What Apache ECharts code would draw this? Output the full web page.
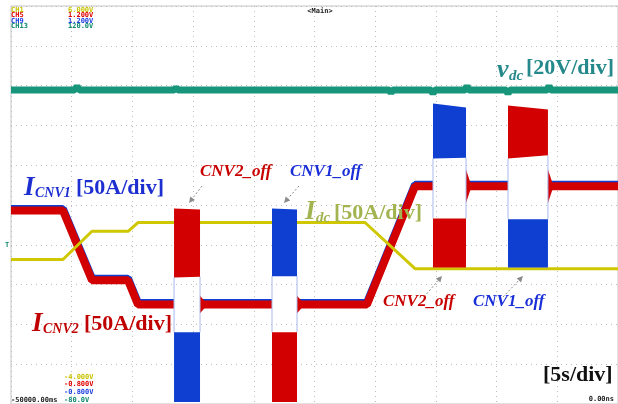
<!DOCTYPE html>
<html><head><meta charset="utf-8">
<script src="https://cdn.jsdelivr.net/npm/echarts@6/dist/echarts.min.js"></script>
<style>html,body{margin:0;padding:0;background:#fff}#c{width:618px;height:404px}</style>
</head><body><div id="c"></div>
<script>
// ---- axes: time in seconds (5 s/div), vertical in screen divisions ----
const timeMin = -50, timeMax = 0, timeStep = 5;
const divMin = -5, divMax = 5, divStep = 1;

// ---- v_dc (CH13) ----
const vdcT = [-50, -44.75, -44.56, -44.37, -36.55, -36.4, -36.25, -28.4, -28.25, -28.1, -18.85, -18.7, -18.55, -15.39, -15.24, -15.09, -12.59, -12.44, -12.29, -9.21, -9.06, -8.91, -5.83, -5.68, -5.53, 0];
const vdcV = [2.89, 2.89, 2.98, 2.89, 2.89, 2.95, 2.89, 2.89, 2.94, 2.89, 2.89, 2.82, 2.89, 2.89, 2.8, 2.89, 2.89, 2.99, 2.89, 2.89, 2.8, 2.89, 2.89, 2.99, 2.89, 2.89];

// ---- I_dc (CH1) ----
const idcT = [-50, -45.72, -43.33, -40.36, -39.54, -20.84, -16.72, 0];
const idcV = [-1.37, -1.37, -0.66, -0.66, -0.44, -0.44, -1.6, -1.6];

// ---- I_CNV1 (CH9) and I_CNV2 (CH5), null = burst interval ----
const curT   = [-50, -45.72, -43.33, -40.36, -39.54, -36.57, -35.5, -34.43, -28.5, -27.5, -26.44, -20.68, -16.72, -15.24, -13.9, -12.52, -9.06, -7.4, -5.77, 0];
const icnv1V = [-0.1, -0.1, -1.85, -1.85, -2.46, -2.46, null, -2.46, -2.46, null, -2.46, -2.46, 0.51, 0.51, null, 0.51, 0.51, null, 0.51, 0.51];
const icnv2V = [-0.14, -0.14, -1.89, -1.89, -2.5, -2.5, null, -2.5, -2.5, null, -2.5, -2.5, 0.47, 0.47, null, 0.47, 0.47, null, 0.47, 0.47];

// ---- converter-off bursts (envelopes of the fast oscillation) ----
const burstStart = [-36.57, -28.5, -15.24, -9.06];
const burstEnd   = [-34.43, -26.44, -12.52, -5.77];
const cnv2TopL = [-0.085, -3.2, -0.34, 2.5];
const cnv2TopR = [-0.11, -3.2, -0.34, 2.4];
const cnv2BotL = [-1.82, -4.95, -1.57, 1.17];
const cnv2BotR = [-1.8, -4.95, -1.57, 1.25];
const cnv1TopL = [-3.2, -0.085, 2.55, -0.36];
const cnv1TopR = [-3.2, -0.11, 2.45, -0.36];
const cnv1BotL = [-4.95, -1.79, 1.17, -1.57];
const cnv1BotR = [-4.95, -1.79, 1.19, -1.57];
const ringLevel = [-2.5, -2.5, 0.47, 0.47];
const ringAmp   = [0.22, 0.22, 0.42, 0.42];

const RED = '#d20000', BLUE = '#0e3fd0', YEL = '#cfc800', TEAL = '#17967c';

const chart = echarts.init(document.getElementById('c'), null, {renderer: 'canvas'});
const zip = (a, b) => a.map((t, i) => [t, b[i]]);
const bandData = (tl, tr, bl, br) => burstStart.map((s, i) => [s, burstEnd[i], tl[i], tr[i], bl[i], br[i]]);

function bandRender(color) {
  return function (params, api) {
    const s = api.value(0), e = api.value(1);
    return {
      type: 'polygon',
      shape: {points: [api.coord([s, api.value(2)]), api.coord([e, api.value(3)]), api.coord([e, api.value(5)]), api.coord([s, api.value(4)])]},
      style: {fill: color}
    };
  };
}
function edgeRender(params, api) {
  const s = api.value(0), e = api.value(1);
  const a1 = api.coord([s, api.value(2)]), a2 = api.coord([s, api.value(3)]);
  const b1 = api.coord([e, api.value(4)]), b2 = api.coord([e, api.value(5)]);
  return {type: 'group', children: [
    {type: 'line', shape: {x1: a1[0], y1: a1[1], x2: a2[0], y2: a2[1]}, style: {stroke: '#a8b8ee', lineWidth: 1}},
    {type: 'line', shape: {x1: b1[0], y1: b1[1], x2: b2[0], y2: b2[1]}, style: {stroke: '#a8b8ee', lineWidth: 1}}
  ]};
}
function ringRender(params, api) {
  const t = api.value(0), lv = api.value(1), a = api.value(2);
  return {type: 'polygon', shape: {points: [api.coord([t, lv + a]), api.coord([t + 0.35, lv + 0.1]), api.coord([t + 0.35, lv - 0.1]), api.coord([t, lv - a])]}, style: {fill: RED}};
}
const edgeData = burstStart.map((s, i) => {
  const upBotL = Math.max(cnv1BotL[i], cnv2BotL[i]), loTopL = Math.min(cnv1TopL[i], cnv2TopL[i]);
  const upBotR = Math.max(cnv1BotR[i], cnv2BotR[i]), loTopR = Math.min(cnv1TopR[i], cnv2TopR[i]);
  return [s, burstEnd[i], upBotL, loTopL, upBotR, loTopR];
});

const SERIF = '"Liberation Serif","Times New Roman",serif';
const MONO = '"DejaVu Sans Mono",monospace';
function txt(x, y, text, font, fill, align) {
  return {type: 'text', x: x, y: y, z: 100, style: {text: text, font: font, fill: fill, textAlign: align || 'left', textVerticalAlign: 'middle'}};
}
function arrow(x1, y1, x2, y2) {
  const ang = Math.atan2(y2 - y1, x2 - x1), L = 6, W = 3;
  const bx = x2 - L * Math.cos(ang), by = y2 - L * Math.sin(ang);
  return {type: 'group', z: 100, children: [
    {type: 'line', shape: {x1: x1, y1: y1, x2: bx, y2: by}, style: {stroke: '#8c8c8c', lineWidth: 1, lineDash: [2, 2]}},
    {type: 'polygon', shape: {points: [[x2, y2], [bx - W * Math.sin(ang), by + W * Math.cos(ang)], [bx + W * Math.sin(ang), by - W * Math.cos(ang)]]}, style: {fill: '#8c8c8c'}}
  ]};
}

const graphics = [
  txt(11, 10, 'CH1', 'bold 7px ' + MONO, '#c8c400'), txt(68, 10, '6.000V', 'bold 7px ' + MONO, '#c8c400'),
  txt(11, 15.5, 'CH5', 'bold 7px ' + MONO, '#e00000'), txt(68, 15.5, '1.200V', 'bold 7px ' + MONO, '#e00000'),
  txt(11, 21, 'CH9', 'bold 7px ' + MONO, '#1f40e0'), txt(68, 21, '1.200V', 'bold 7px ' + MONO, '#1f40e0'),
  txt(11, 26.5, 'CH13', 'bold 7px ' + MONO, '#108a70'), txt(68, 26.5, '120.0V', 'bold 7px ' + MONO, '#108a70'),
  txt(320, 11, '<Main>', 'bold 7px ' + MONO, '#222', 'center'),
  txt(64, 377, '-4.000V', 'bold 7px ' + MONO, '#c8c400'),
  txt(64, 384.5, '-0.800V', 'bold 7px ' + MONO, '#e00000'),
  txt(64, 392.5, '-0.800V', 'bold 7px ' + MONO, '#1f40e0'),
  txt(64, 400.5, '-80.0V', 'bold 7px ' + MONO, '#108a70'),
  txt(11, 400.5, '-50000.00ms', 'bold 7px ' + MONO, '#222'),
  txt(614, 399, '0.00ns', 'bold 7px ' + MONO, '#222', 'right'),
  txt(5, 245, 'T', 'bold 7px ' + MONO, '#108a70'),
  txt(497, 70, 'v', 'italic bold 26px ' + SERIF, '#25898b'),
  txt(509, 76, 'dc', 'italic bold 15px ' + SERIF, '#25898b'),
  txt(526, 68.5, '[20V/div]', 'bold 22px ' + SERIF, '#25898b'),
  txt(24, 188, 'I', 'italic bold 27px ' + SERIF, '#1d2fd0'),
  txt(35, 193, 'CNV1', 'italic bold 14px ' + SERIF, '#1d2fd0'),
  txt(76, 188, '[50A/div]', 'bold 22px ' + SERIF, '#1d2fd0'),
  txt(32, 324, 'I', 'italic bold 27px ' + SERIF, '#c00000'),
  txt(43, 329, 'CNV2', 'italic bold 14px ' + SERIF, '#c00000'),
  txt(84, 324, '[50A/div]', 'bold 22px ' + SERIF, '#c00000'),
  txt(305, 212, 'I', 'italic bold 27px ' + SERIF, '#a2b450'),
  txt(316, 218, 'dc', 'italic bold 15px ' + SERIF, '#a2b450'),
  txt(334, 213, '[50A/div]', 'bold 22px ' + SERIF, '#a2b450'),
  txt(543, 375, '[5s/div]', 'bold 22px ' + SERIF, '#111'),
  txt(200, 172, 'CNV2_off', 'italic bold 17px ' + SERIF, '#c80000'),
  txt(290, 172, 'CNV1_off', 'italic bold 17px ' + SERIF, '#1a2fd8'),
  txt(383, 302, 'CNV2_off', 'italic bold 17px ' + SERIF, '#c80000'),
  txt(473, 302, 'CNV1_off', 'italic bold 17px ' + SERIF, '#1a2fd8'),
  arrow(202, 186, 189, 203), arrow(299, 186, 284, 203),
  arrow(424, 297, 442, 276), arrow(503, 297, 523, 276)
];

chart.setOption({
  animation: false,
  backgroundColor: '#fff',
  grid: {left: 11, right: 0, top: 6, bottom: 0, show: true, borderColor: '#c4c4c4', borderWidth: 1},
  xAxis: {type: 'value', min: timeMin, max: timeMax, interval: timeStep,
    axisLine: {show: false}, axisTick: {show: false}, axisLabel: {show: false},
    splitLine: {show: true, lineStyle: {color: '#bcbcbc', width: 1, type: [1, 4]}}},
  yAxis: {type: 'value', min: divMin, max: divMax, interval: divStep,
    axisLine: {show: false}, axisTick: {show: false}, axisLabel: {show: false},
    splitLine: {show: true, lineStyle: {color: '#bcbcbc', width: 1, type: [1, 4]}}},
  series: [
    {type: 'line', name: 'vdc', data: zip(vdcT, vdcV), symbol: 'none', z: 2, lineStyle: {color: TEAL, width: 7, join: 'bevel'}},
    {type: 'line', name: 'ICNV1', data: zip(curT, icnv1V), symbol: 'none', connectNulls: false, z: 3, lineStyle: {color: BLUE, width: 8, cap: 'butt'}},
    {type: 'line', name: 'ICNV2', data: zip(curT, icnv2V), symbol: 'none', connectNulls: false, z: 4, lineStyle: {color: RED, width: 8, cap: 'butt'}},
    {type: 'custom', name: 'ring', z: 4, renderItem: ringRender, data: burstEnd.map((t, i) => [t, ringLevel[i], ringAmp[i]])},
    {type: 'line', name: 'Idc', data: zip(idcT, idcV), symbol: 'none', z: 5, lineStyle: {color: YEL, width: 3}},
    {type: 'custom', name: 'edges', z: 6, renderItem: edgeRender, data: edgeData},
    {type: 'custom', name: 'CNV2 burst', z: 7, renderItem: bandRender(RED), data: bandData(cnv2TopL, cnv2TopR, cnv2BotL, cnv2BotR)},
    {type: 'custom', name: 'CNV1 burst', z: 7, renderItem: bandRender(BLUE), data: bandData(cnv1TopL, cnv1TopR, cnv1BotL, cnv1BotR)}
  ],
  graphic: graphics
});
</script></body></html>
